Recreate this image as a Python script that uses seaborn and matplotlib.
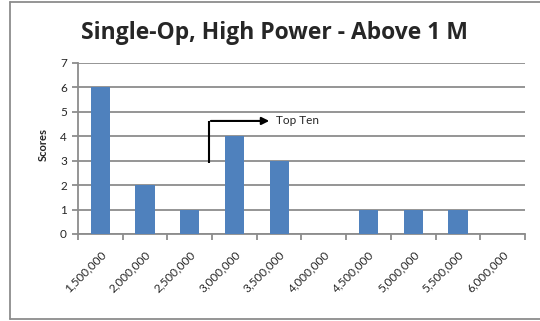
import matplotlib
matplotlib.use("Agg")
import matplotlib.pyplot as plt
import seaborn as sns
import numpy as np
import pandas as pd
from matplotlib.lines import Line2D

categories = ["1,500,000", "2,000,000", "2,500,000", "3,000,000", "3,500,000",
              "4,000,000", "4,500,000", "5,000,000", "5,500,000", "6,000,000"]
scores = [6, 2, 1, 4, 3, 0, 1, 1, 1, 0]
title = "Single-Op, High Power - Above 1 M"
y_label = "Scores"
annotation = "Top Ten"

sns.set_theme(style="white")
plt.rcParams['font.family'] = ['Lato', 'DejaVu Sans']

df = pd.DataFrame({"cat": categories, "score": scores})

fig = plt.figure(figsize=(5.4, 3.21), dpi=100)
ax = fig.add_axes([78/540, 1-234/321, (525-78)/540, (234-62.7)/321])

sns.barplot(data=df, x="cat", y="score", order=categories, color="#4F81BD",
            width=0.43, saturation=1, ax=ax, zorder=3, linewidth=0, edgecolor="none")

ax.set_xlim(-0.5, len(categories) - 0.5)
ax.set_ylim(0, 7)
ax.set_yticks(range(0, 8))
ax.yaxis.grid(True, color="#8C8C8C", linewidth=1.3, zorder=0)
ax.set_axisbelow(True)
for s in ["top", "right"]:
    ax.spines[s].set_visible(False)
for s in ["left", "bottom"]:
    ax.spines[s].set_color("#8C8C8C")
    ax.spines[s].set_linewidth(1.3)

ax.set_xticks(range(len(categories)))
ax.set_xticklabels(categories, rotation=45, ha="right", rotation_mode="anchor", fontsize=8.5)
ax.set_xticks(np.arange(-0.5, len(categories), 1.0), minor=True)
ax.tick_params(axis="x", which="major", length=0, pad=11)
ax.tick_params(axis="x", which="minor", length=4, width=1.3, color="#8C8C8C", direction="out", bottom=True)
ax.tick_params(axis="y", which="major", length=4, width=1.3, color="#8C8C8C", direction="out", left=True, labelsize=8.5, pad=4)
ax.set_xlabel("")
ax.set_ylabel("")

fig.text(43/540, 1-145/321, y_label, rotation=90, fontsize=8, fontweight="bold",
         ha="center", va="center")

fig.text(274/540, 1-33/321, title, fontsize=16.5, fontweight="bold", ha="center", va="center",
         family=["Open Sans", "DejaVu Sans"])

# Top Ten arrow
ax.plot([2.43, 2.43], [2.9, 4.62], color="black", linewidth=1.5, zorder=5, solid_capstyle="butt")
ax.annotate("", xy=(3.84, 4.62), xytext=(2.41, 4.62),
            arrowprops=dict(arrowstyle="-|>", color="black", lw=1.5, mutation_scale=11), zorder=5)
ax.text(3.93, 4.62, annotation, fontsize=8.5, ha="left", va="center", zorder=5)

# outer chart border
fig.add_artist(Line2D([10/540, 10/540], [1-319/321, 1-2/321], transform=fig.transFigure, color="#8C8C8C", linewidth=1.3))
fig.add_artist(Line2D([10/540, 1.0], [1-2/321, 1-2/321], transform=fig.transFigure, color="#8C8C8C", linewidth=1.3))
fig.add_artist(Line2D([10/540, 1.0], [1-319/321, 1-319/321], transform=fig.transFigure, color="#8C8C8C", linewidth=1.3))

fig.savefig("out.png", dpi=100)
